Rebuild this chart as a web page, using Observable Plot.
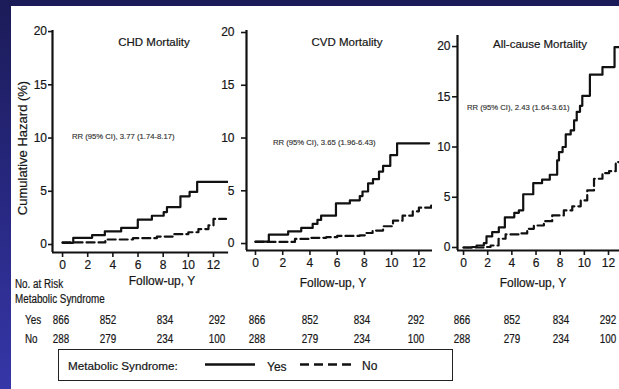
<!DOCTYPE html>
<html><head><meta charset="utf-8">
<script src="https://cdn.jsdelivr.net/npm/d3@7"></script>
<script src="https://cdn.jsdelivr.net/npm/@observablehq/plot@0.6"></script>
<style>
html,body{margin:0;padding:0;}
body{width:619px;height:389px;overflow:hidden;position:relative;
  background:linear-gradient(180deg,#1b1b58 0%,#26267c 45%,#3636a8 100%);
  font-family:"Liberation Sans",Arial,sans-serif;color:#161616}
#paper{position:absolute;left:11px;top:6px;right:0;bottom:0;background:#fff}
.abs{position:absolute;white-space:nowrap;line-height:1;-webkit-text-stroke:0.2px #161616}
.c{transform:translate(-50%,-50%)}
.l{transform:translate(0,-50%)}
.cn{transform:translate(-50%,-50%) scaleX(0.82)}
.ln{transform:translate(0,-50%) scaleX(0.82);transform-origin:0 50%}
.panel{position:absolute;top:0}
.panel text{stroke:#161616;stroke-width:0.2px}
</style></head><body>
<div id="paper"></div>
<div id="root"></div>
<script>
// ---------------- data ----------------
const xTicks = [0, 2, 4, 6, 8, 10, 12];
const yTicks = [0, 5, 10, 15, 20];
const panelTitles = ["CHD Mortality", "CVD Mortality", "All-cause Mortality"];
const rrLabels = ["RR (95% CI), 3.77 (1.74-8.17)", "RR (95% CI), 3.65 (1.96-6.43)", "RR (95% CI), 2.43 (1.64-3.61)"];
const groups = ["Yes", "No"];
const atRiskYes = [866, 852, 834, 292];
const atRiskNo = [288, 279, 234, 100];

// CHD mortality
const chdYesYears = [0, 0.85, 2.35, 3.36, 4.66, 5.98, 7.1, 8.04, 8.3, 9.37, 10.1, 10.7, 13.2];
const chdYesHaz   = [0.16, 0.63, 0.88, 1.23, 1.57, 2.33, 2.7, 3.05, 3.52, 4.53, 4.94, 5.88, 5.88];
const chdNoYears  = [0, 3.4, 5.6, 7.5, 8.8, 10.0, 10.8, 11.6, 12.0, 13.0];
const chdNoHaz    = [0.2, 0.47, 0.6, 0.75, 0.97, 1.15, 1.45, 1.8, 2.4, 2.4];
// CVD mortality
const cvdYesYears = [0, 0.98, 2.4, 3.36, 4.2, 4.55, 4.82, 5.91, 6.93, 7.66, 7.86, 8.27, 8.63, 9.07, 9.37, 9.9, 10.4, 12.75];
const cvdYesHaz   = [0.19, 0.85, 1.16, 1.48, 1.86, 2.24, 2.64, 3.8, 4.1, 4.5, 4.93, 5.7, 6.1, 6.82, 7.36, 8.37, 9.5, 9.5];
const cvdNoYears  = [0, 2.9, 4.1, 5.2, 6.0, 7.66, 8.15, 8.6, 9.37, 10.1, 10.8, 11.55, 12.0, 12.9];
const cvdNoHaz    = [0.15, 0.44, 0.54, 0.6, 0.72, 0.78, 1.0, 1.23, 1.64, 2.17, 2.64, 3.05, 3.4, 3.6];
// All-cause mortality
const allYesYears = [0, 0.7, 1.08, 1.68, 1.9, 2.37, 2.92, 3.42, 4.2, 4.58, 4.94, 5.77, 6.5, 7.14, 7.75, 7.9, 8.2, 8.46, 8.87, 9.15, 9.37, 9.64, 9.83, 10.46, 11.5, 12.5, 13.5];
const allYesHaz   = [0, 0.05, 0.2, 0.43, 1.1, 1.52, 2.0, 3.0, 3.45, 3.7, 5.3, 6.4, 6.75, 7.24, 8.67, 9.5, 10.0, 11.25, 11.65, 12.65, 13.5, 14.1, 15.1, 17.2, 17.96, 19.95, 19.95];
const allNoYears  = [0, 1.68, 2.24, 2.9, 3.48, 4.6, 5.27, 5.82, 6.65, 7.34, 8.3, 9.0, 9.7, 10.24, 10.8, 11.5, 12.05, 12.6, 13.2];
const allNoHaz    = [0, 0.05, 0.2, 0.87, 1.3, 1.4, 1.86, 2.19, 2.62, 3.19, 3.69, 4.1, 4.68, 5.68, 6.84, 7.4, 7.6, 8.5, 9.0];

const zip = (ts, hs) => ts.map((t, i) => ({t, h: hs[i]}));
const series = [
  [zip(chdYesYears, chdYesHaz), zip(chdNoYears, chdNoHaz)],
  [zip(cvdYesYears, cvdYesHaz), zip(cvdNoYears, cvdNoHaz)],
  [zip(allYesYears, allYesHaz), zip(allNoYears, allNoHaz)]
];

// ---------------- layout ----------------
const layout = [
  {left: 0,   width: 232, mL: 52, mR: 3.9, mT: 30, h: 280, xd: [-0.8, 13.2], yd: [-0.75, 20.1], ts: 4, tp: 1.5,
   title: [154, 43], rr: [72, 137], fu: [162, 281], nums: [61, 107.5, 164.5, 217]},
  {left: 200, width: 236, mL: 46, mR: 4,   mT: 30, h: 278, xd: [-0.66, 13.0], yd: [-0.66, 20.19], ts: 5, tp: 7,
   title: [347, 43], rr: [273, 143], fu: [333, 283], nums: [257, 310, 362, 416]},
  {left: 410, width: 209, mL: 47, mR: 0,   mT: 35, h: 278, xd: [-0.5, 12.91], yd: [-0.3, 21.1], ts: 5, tp: 2,
   title: [540, 45], rr: [467, 108], fu: [533, 283], nums: [462, 512, 561, 608]}
];
const root = document.getElementById("root");
function addText(txt, x, y, cls, style) {
  const d = document.createElement("div");
  d.className = "abs " + cls;
  d.textContent = txt;
  d.style.left = x + "px"; d.style.top = y + "px";
  Object.assign(d.style, style || {});
  root.appendChild(d);
  return d;
}

layout.forEach((L, i) => {
  const [yes, no] = series[i];
  const chart = Plot.plot({
    width: L.width, height: L.h,
    marginLeft: L.mL, marginRight: L.mR, marginTop: L.mT, marginBottom: 28,
    x: {domain: L.xd},
    y: {domain: L.yd},
    style: {background: "transparent", fontFamily: "'Liberation Sans', Arial, sans-serif", fontSize: "12px", color: "#161616", overflow: "visible"},
    marks: [
      Plot.axisX({ticks: xTicks, tickSize: 5, tickPadding: 3, label: null, strokeWidth: 1.6}),
      Plot.axisY({ticks: yTicks, tickSize: L.ts, tickPadding: L.tp, label: null, strokeWidth: 1.6}),
      Plot.ruleX([L.xd[0]], {stroke: "#111", strokeWidth: 2.2}),
      Plot.ruleY([L.yd[0]], {stroke: "#111", strokeWidth: 2.2}),
      Plot.line(no, {x: "t", y: "h", curve: "step-after", stroke: "#111", strokeWidth: 2.2, strokeDasharray: "8,4", clip: true}),
      Plot.line(yes, {x: "t", y: "h", curve: "step-after", stroke: "#111", strokeWidth: 2.2, clip: true})
    ]
  });
  chart.classList.add("panel");
  chart.style.left = L.left + "px";
  root.appendChild(chart);

  addText(panelTitles[i], L.title[0], L.title[1], "c", {fontSize: "11.5px"});
  addText(rrLabels[i], L.rr[0], L.rr[1], "l", {fontSize: "7.7px", color: "#333", webkitTextStroke: "0.15px #333"});
  addText("Follow-up, Y", L.fu[0], L.fu[1], "c", {fontSize: "12px"});
  atRiskYes.forEach((v, j) => addText(String(v), L.nums[j], 320, "cn", {fontSize: "12px"}));
  atRiskNo.forEach((v, j) => addText(String(v), L.nums[j], 339, "cn", {fontSize: "12px"}));
});

addText("Cumulative Hazard (%)", 22, 148, "", {fontSize: "13px", transform: "translate(-50%,-50%) rotate(-90deg)"});
addText("No. at Risk", 15, 284, "ln", {fontSize: "12px"});
addText("Metabolic Syndrome", 15, 299, "ln", {fontSize: "12px"});
addText(groups[0], 25, 320, "ln", {fontSize: "12px"});
addText(groups[1], 25, 339, "ln", {fontSize: "12px"});

// legend
const box = document.createElement("div");
Object.assign(box.style, {position: "absolute", left: "58px", top: "349px", width: "393px", height: "30px", border: "1px solid #222"});
root.appendChild(box);
addText("Metabolic Syndrome:", 68, 366, "l", {fontSize: "11.7px"});
const ns = "http://www.w3.org/2000/svg";
const lg = document.createElementNS(ns, "svg");
lg.setAttribute("width", 619); lg.setAttribute("height", 389);
Object.assign(lg.style, {position: "absolute", left: 0, top: 0});
[[205, 255, null], [300, 351, "9,5"]].forEach(([x1, x2, dash]) => {
  const ln = document.createElementNS(ns, "line");
  ln.setAttribute("x1", x1); ln.setAttribute("x2", x2);
  ln.setAttribute("y1", 364.5); ln.setAttribute("y2", 364.5);
  ln.setAttribute("stroke", "#111"); ln.setAttribute("stroke-width", 2.6);
  if (dash) ln.setAttribute("stroke-dasharray", dash);
  lg.appendChild(ln);
});
root.appendChild(lg);
addText(groups[0], 267, 367, "l", {fontSize: "12px"});
addText(groups[1], 362, 366, "l", {fontSize: "12px"});
</script></body></html>
